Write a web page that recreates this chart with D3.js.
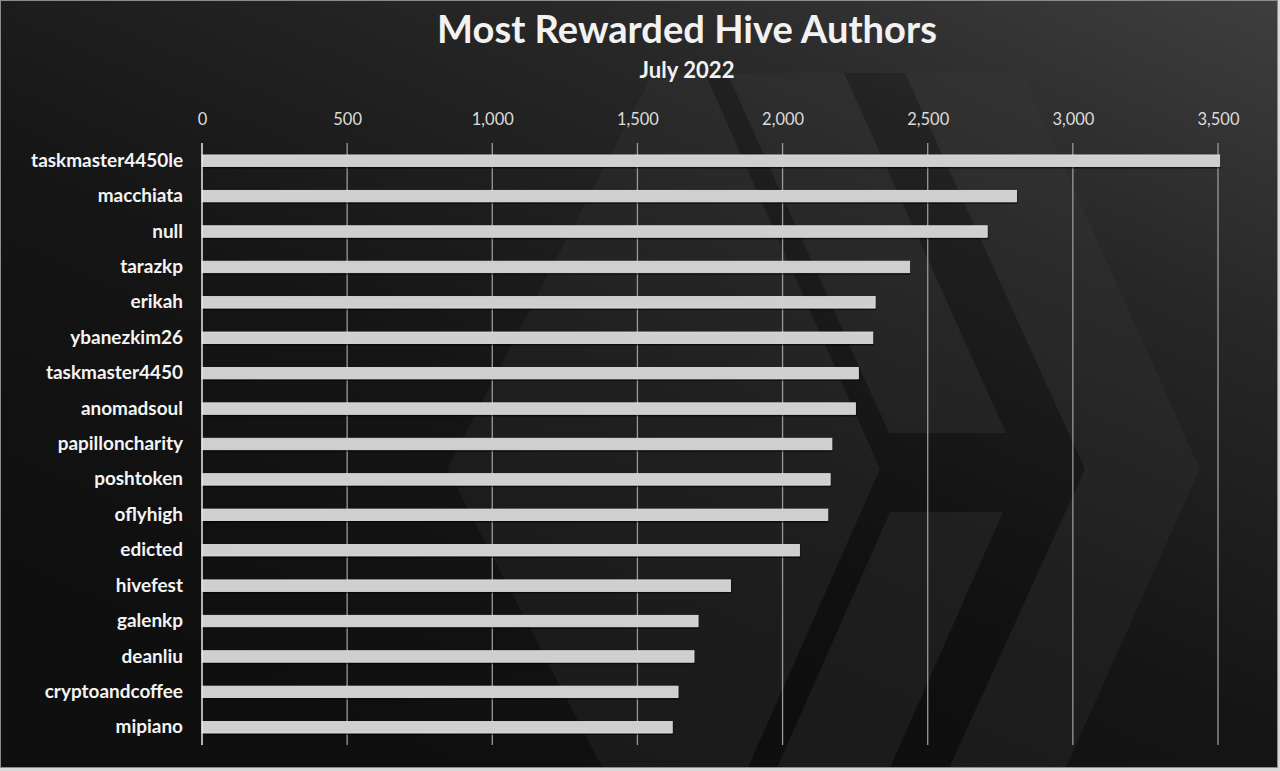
<!DOCTYPE html>
<html>
<head>
<meta charset="utf-8">
<script src="https://cdn.jsdelivr.net/npm/d3@7/dist/d3.min.js"></script>
<style>
  html, body { margin: 0; padding: 0; background: #d9d9d9; overflow: hidden; }
  svg { display: block; }
  text { font-family: Lato, "Open Sans", "DejaVu Sans", sans-serif; }
</style>
</head>
<body>
<svg id="chart" width="1280" height="771"></svg>
<script>
// ---------------- data ----------------
const categories = [
  "taskmaster4450le", "macchiata", "null", "tarazkp", "erikah", "ybanezkim26",
  "taskmaster4450", "anomadsoul", "papilloncharity", "poshtoken", "oflyhigh",
  "edicted", "hivefest", "galenkp", "deanliu", "cryptoandcoffee", "mipiano"
];
const values = [
  3506, 2806, 2705, 2438, 2319, 2311,
  2261, 2251, 2170, 2164, 2156,
  2058, 1821, 1709, 1695, 1640, 1620
];
const tickValues = [0, 500, 1000, 1500, 2000, 2500, 3000, 3500];
const titleText = "Most Rewarded Hive Authors";
const subtitleText = "July 2022";

// ---------------- layout ----------------
const W = 1280, H = 771;
const svg = d3.select("#chart");
const defs = svg.append("defs");

const grad = defs.append("linearGradient").attr("id", "bg")
  .attr("x1", "0.3").attr("y1", "0.95").attr("x2", "1").attr("y2", "0");
grad.append("stop").attr("offset", "0").attr("stop-color", "#0f0f0f");
grad.append("stop").attr("offset", "0.35").attr("stop-color", "#151515");
grad.append("stop").attr("offset", "0.7").attr("stop-color", "#272727");
grad.append("stop").attr("offset", "1").attr("stop-color", "#3e3e3e");

defs.append("clipPath").attr("id", "frameClip")
  .append("rect").attr("x", 1).attr("y", 1).attr("width", 1276).attr("height", 766);

// background frame
svg.append("rect").attr("x", 0.5).attr("y", 0.5).attr("width", 1277).attr("height", 767)
  .attr("fill", "url(#bg)").attr("stroke", "#8c8c8c").attr("stroke-width", 1);

// watermark (Hive logo, decorative)
const wm = svg.append("g").attr("clip-path", "url(#frameClip)");
const hexagon = [[447,469],[653,73],[1022,73],[1200,469],[1022,865],[653,865]];
wm.append("polygon").attr("points", hexagon.map(p => p.join(",")).join(" "))
  .attr("fill", "#000").attr("opacity", 0.17);
const pieces = [
  [[653,73],[705,73],[880,469],[705,865],[653,865],[447,469]],
  [[727,73],[844,73],[1006,433],[889,433]],
  [[890,512],[1003,512],[847,865],[734,865]],
  [[905,73],[1022,73],[1200,469],[1022,865],[905,865],[1085,469]]
];
pieces.forEach(pts => {
  wm.append("polygon").attr("points", pts.map(p => p.join(",")).join(" "))
    .attr("fill", "#fff").attr("opacity", 0.055);
});

// scales
const x = d3.scaleLinear().domain([0, 3500]).range([202, 1218]);
const y = d3.scaleBand().domain(categories).range([143, 745])
  .paddingInner(0.675).paddingOuter(0.3375);

function fit(sel, target) {
  const w = sel.node().getComputedTextLength();
  const fs = parseFloat(sel.attr("font-size"));
  return fs * target / w;
}

// title
const t = svg.append("text").attr("x", 687).attr("y", 43)
  .attr("text-anchor", "middle").attr("font-weight", "bold")
  .attr("font-size", 36).attr("fill", "#f2f2f2").text(titleText);
t.attr("font-size", Math.min(38.5, fit(t, 500)));
const st = svg.append("text").attr("x", 687).attr("y", 78)
  .attr("text-anchor", "middle").attr("font-weight", "bold")
  .attr("font-size", 20).attr("fill", "#f2f2f2").text(subtitleText);
st.attr("font-size", Math.min(23, fit(st, 95)));

// gridlines
svg.append("g").selectAll("line").data(tickValues.filter(d => d > 0)).join("line")
  .attr("x1", d => x(d)).attr("x2", d => x(d))
  .attr("y1", 143).attr("y2", 745)
  .attr("stroke", "#9a9a9a").attr("stroke-width", 1.3);

// top axis labels
const xAxis = d3.axisTop(x).tickValues(tickValues).tickFormat(d3.format(",")).tickSize(0).tickPadding(0);
const gx = svg.append("g").attr("transform", "translate(0,125)").call(xAxis);
gx.select(".domain").remove();
gx.selectAll("text").attr("font-family", "Lato, 'Open Sans', sans-serif")
  .attr("fill", "#dcdcdc").attr("font-size", 16);
const probe = gx.selectAll("text").filter(d => d === 3500);
const tickFs = fit(probe, 42);
gx.selectAll("text").attr("font-size", tickFs).attr("dy", 0);

// bars
const bars = svg.append("g");
bars.selectAll("rect.shadow").data(values).join("rect").attr("class", "shadow")
  .attr("x", x(0)).attr("y", (d, i) => y(categories[i]) + 1)
  .attr("width", d => x(d) - x(0) + 1).attr("height", y.bandwidth() + 1)
  .attr("fill", "#000").attr("opacity", 0.55);
bars.selectAll("rect.bar").data(values).join("rect").attr("class", "bar")
  .attr("x", x(0)).attr("y", (d, i) => y(categories[i]))
  .attr("width", d => x(d) - x(0)).attr("height", y.bandwidth())
  .attr("fill", "#cfcfcf").attr("stroke", "#e4e4e4").attr("stroke-width", 0.8);

// left axis line
svg.append("line").attr("x1", x(0)).attr("x2", x(0)).attr("y1", 143).attr("y2", 745)
  .attr("stroke", "#e8e8e8").attr("stroke-width", 1.5);

// category labels
const gy = svg.append("g").attr("transform", "translate(183,0)")
  .call(d3.axisLeft(y).tickSize(0).tickPadding(0));
gy.select(".domain").remove();
gy.selectAll("text").attr("font-family", "Lato, 'Open Sans', sans-serif")
  .attr("font-weight", "bold").attr("fill", "#f4f4f4").attr("font-size", 16);
const lp = gy.selectAll("text").filter(d => d === "taskmaster4450le");
const labFs = fit(lp, 152);
gy.selectAll("text").attr("font-size", labFs);
</script>
</body>
</html>
